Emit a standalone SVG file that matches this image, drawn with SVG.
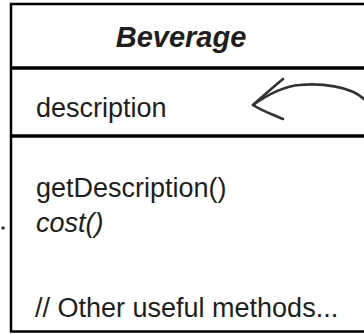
<svg xmlns="http://www.w3.org/2000/svg" width="364" height="334" viewBox="0 0 364 334">
<style>
.t{font-family:"Liberation Sans",Arial,sans-serif;fill:#1e1e1e;font-size:27px}
.title{font-weight:bold;font-style:italic;font-size:29px}
.it{font-style:italic}
.box{fill:#fff;stroke:#000;stroke-width:2.5}
.div{stroke:#000;stroke-width:3.5}
.arr{fill:none;stroke:#333;stroke-width:2.6;stroke-linecap:round;stroke-linejoin:round}
</style>
<rect width="364" height="334" fill="#fff"/>
<g id="beverage">
<rect class="box" x="11" y="4" width="370" height="327.5"/>
<line class="div" x1="11" y1="68" x2="364" y2="68"/>
<line class="div" x1="11" y1="136" x2="364" y2="136"/>
<text class="t title" x="181" y="47" text-anchor="middle">Beverage</text>
<text class="t" x="36" y="117">description</text>
<text class="t" x="36" y="197">getDescription()</text>
<text class="t it" x="36" y="232">cost()</text>
<text class="t" x="35" y="317">// Other useful methods...</text>
</g>
<g id="connectors">
<path class="arr" d="M364,99 C350,86 320,83 300,85 C285,86 270,93 253,105"/>
<path class="arr" d="M283,79 C272,88 262,97 253,105 C262,111 272,114 283,119"/>
<circle cx="3" cy="228" r="1.8" fill="#333"/>
</g>
</svg>
